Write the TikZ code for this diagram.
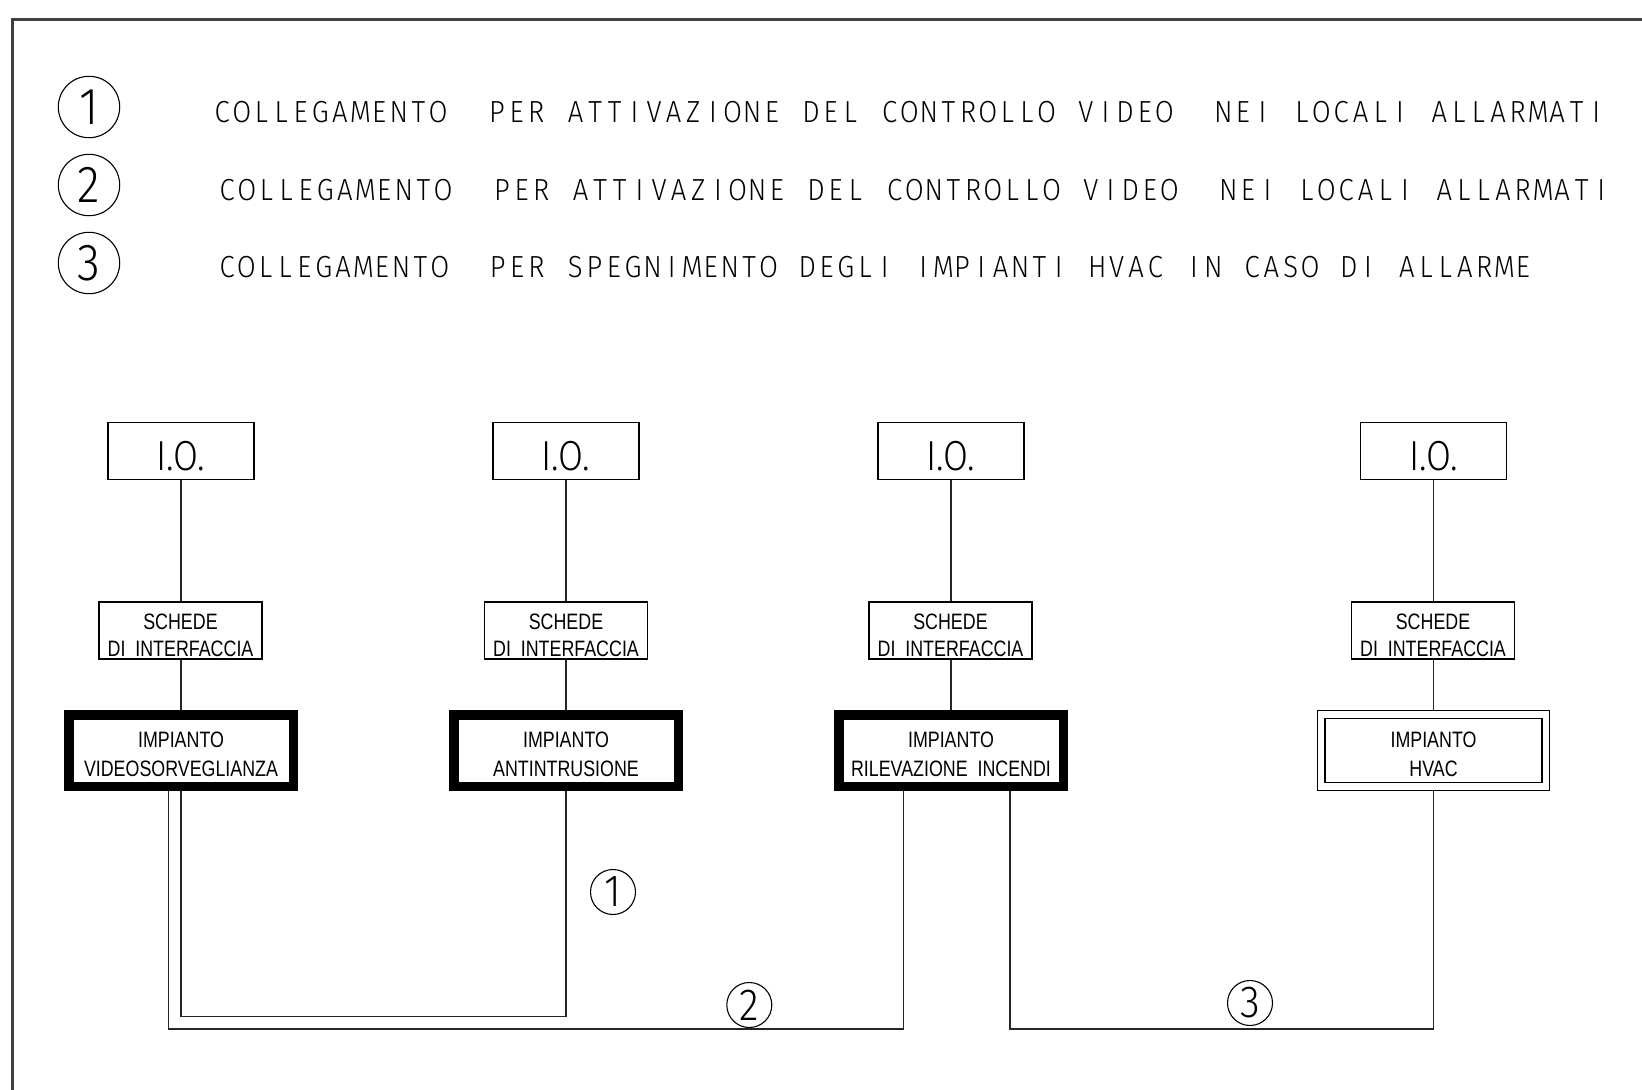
\documentclass[tikz,border=0pt]{standalone}
\usepackage{fontspec}
\usepackage{graphicx}
\IfFontExistsTF{Fira Sans Light}{%
  \newfontfamily\legfont[FakeStretch=0.9]{Fira Sans Light}%
  \newfontfamily\iofont[FakeStretch=0.86]{Fira Sans Light}%
}{%
  \IfFontExistsTF{FiraSans-Light.otf}{%
    \newfontfamily\legfont[FakeStretch=0.9]{FiraSans-Light.otf}%
    \newfontfamily\iofont[FakeStretch=0.86]{FiraSans-Light.otf}%
  }{%
    \newfontfamily\legfont[FakeStretch=0.8]{DejaVu Sans}%
    \newfontfamily\iofont[FakeStretch=0.8]{Liberation Sans}%
  }%
}
\newfontfamily\boxfont[FakeStretch=0.8]{Liberation Sans}
\ExplSyntaxOn
\dim_new:N \l_cad_pitch_dim
\NewDocumentCommand \monotext { m m }
  {
    \dim_set:Nn \l_cad_pitch_dim {#1}
    \str_map_inline:nn {#2}
      {
        \str_if_eq:nnTF {##1} {|}
          { \hbox_to_wd:nn { \l_cad_pitch_dim } { \hfil } }
          { \hbox_to_wd:nn { \l_cad_pitch_dim } { \hfil ##1 \hfil } }
      }
  }
\ExplSyntaxOff
\begin{document}
\begin{tikzpicture}[x=1pt,y=-1pt,
  iobox/.style={draw, line width=1.2pt, minimum width=146pt, minimum height=57pt, inner sep=0},
  scbox/.style={draw, line width=1.2pt, minimum width=163pt, minimum height=57pt, inner sep=0},
  impbox/.style={draw, line width=9.5pt, minimum width=224.5pt, minimum height=71.5pt, inner sep=0},
  hvbox/.style={draw, line width=1.2pt, double, double distance=6.3pt, minimum width=224.5pt, minimum height=72pt, inner sep=0, outer sep=4.4pt},
  btxt/.style={anchor=base, inner sep=0, font=\boxfont\fontsize{22.3pt}{27pt}\selectfont},
  iotxt/.style={anchor=base, inner sep=0, font=\iofont\fontsize{42pt}{42pt}\selectfont},
  legtext/.style={anchor=base west, inner sep=0, font=\legfont\fontsize{30.5pt}{31pt}\selectfont},
  wire/.style={line width=1.1pt, draw=black!85},
  legc/.style={circle, draw, line width=1.1pt, minimum size=61.4pt, inner sep=0, font=\legfont\fontsize{52pt}{52pt}\selectfont},
  smc/.style={circle, draw, line width=1.1pt, minimum size=45pt, inner sep=0, font=\legfont\fontsize{45pt}{45pt}\selectfont},
]
\useasboundingbox (0,0) rectangle (1642,1090);
\clip (0,0) rectangle (1642,1090);
% frame (cut by the page edges)
\draw[line width=2.2pt, black!75] (12.5,1100) -- (12.5,19.5) -- (1660,19.5);

% legend
\node[legc] (k1) at (89,107) {1};
\node[legc] (k2) at (89,185) {2};
\node[legc] (k3) at (89,263) {3};
\node[legtext] (t1) at (212.2,122.7) {\monotext{19.63pt}{COLLEGAMENTO||PER ATTIVAZIONE DEL CONTROLLO VIDEO||NEI LOCALI ALLARMATI}};
\node[legtext] (t2) at (217.2,200.7) {\monotext{19.63pt}{COLLEGAMENTO||PER ATTIVAZIONE DEL CONTROLLO VIDEO||NEI LOCALI ALLARMATI}};
\node[legtext] (t3) at (217.2,277.3) {\monotext{19.34pt}{COLLEGAMENTO||PER SPEGNIMENTO DEGLI IMPIANTI HVAC IN CASO DI ALLARME}};

% column 1
\node[iobox] (io1) at (181,450.7) {};
\node[iotxt] (io1t) at (181,470.7) {I.O.};
\node[scbox] (sc1) at (180.5,630.5) {};
\node[btxt] (sc1a) at (180.5,629) {SCHEDE};
\node[btxt] (sc1b) at (180.5,656) {DI\ \ INTERFACCIA};
\node[impbox] (im1) at (181,750.5) {};
\node[btxt] (im1a) at (181,747.5) {IMPIANTO};
\node[btxt] (im1b) at (181,776) {VIDEOSORVEGLIANZA};

% column 2
\node[iobox] (io2) at (566,450.7) {};
\node[iotxt] (io2t) at (566,470.7) {I.O.};
\node[scbox] (sc2) at (566,630.5) {};
\node[btxt] (sc2a) at (566,629) {SCHEDE};
\node[btxt] (sc2b) at (566,656) {DI\ \ INTERFACCIA};
\node[impbox] (im2) at (566,750.5) {};
\node[btxt] (im2a) at (566,747.5) {IMPIANTO};
\node[btxt] (im2b) at (566,776) {ANTINTRUSIONE};

% column 3
\node[iobox] (io3) at (951,450.7) {};
\node[iotxt] (io3t) at (951,470.7) {I.O.};
\node[scbox] (sc3) at (950.5,630.5) {};
\node[btxt] (sc3a) at (950.5,629) {SCHEDE};
\node[btxt] (sc3b) at (950.5,656) {DI\ \ INTERFACCIA};
\node[impbox] (im3) at (951,750.5) {};
\node[btxt] (im3a) at (951,747.5) {IMPIANTO};
\node[btxt] (im3b) at (951,776) {RILEVAZIONE\ \ INCENDI};

% column 4
\node[iobox] (io4) at (1433.5,450.7) {};
\node[iotxt] (io4t) at (1433.5,470.7) {I.O.};
\node[scbox] (sc4) at (1433,630.5) {};
\node[btxt] (sc4a) at (1433,629) {SCHEDE};
\node[btxt] (sc4b) at (1433,656) {DI\ \ INTERFACCIA};
\node[hvbox] (hv) at (1433.5,750.5) {};
\node[btxt] (hva) at (1433.5,747.5) {IMPIANTO};
\node[btxt] (hvb) at (1433.5,776) {HVAC};

% vertical links
\draw[wire] (io1) -- (sc1.north -| io1);
\draw[wire] (sc1.south -| io1) -- (im1);
\draw[wire] (io2) -- (sc2);
\draw[wire] (sc2) -- (im2);
\draw[wire] (io3) -- (sc3.north -| io3);
\draw[wire] (sc3.south -| io3) -- (im3);
\draw[wire] (io4) -- (sc4.north -| io4);
\draw[wire] (sc4.south -| io4) -- (hv);

% connections
\draw[wire] (im1.south) -- ++(0,225.5) -| (im2.south);
\draw[wire] ([xshift=-12.7pt]im1.south) -- ++(0,238) -| ([xshift=-47.7pt]im3.south);
\draw[wire] ([xshift=59pt]im3.south) -- ++(0,238) -| (hv.south);

% connection labels
\node[smc] (n1) at (613,892) {1};
\node[smc] (n2) at (749.3,1005) {2};
\node[smc] (n3) at (1250,1003) {3};
\end{tikzpicture}
\end{document}
